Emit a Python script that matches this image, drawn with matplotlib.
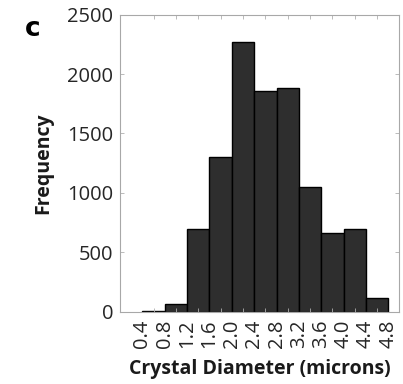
import matplotlib
matplotlib.use("Agg")
import matplotlib.pyplot as plt
import numpy as np

# Histogram of crystal diameters: bin edges (microns) and counts per bin
bin_edges = [0.4, 0.8, 1.2, 1.6, 2.0, 2.4, 2.8, 3.2, 3.6, 4.0, 4.4, 4.8]
counts = [8, 61, 695, 1304, 2268, 1855, 1883, 1051, 664, 692, 111]
edge_labels = ["0.4", "0.8", "1.2", "1.6", "2.0", "2.4", "2.8", "3.2", "3.6", "4.0", "4.4", "4.8"]
y_ticks = [0, 500, 1000, 1500, 2000, 2500]

plt.rcParams['font.family'] = ['Open Sans', 'DejaVu Sans']

fig = plt.figure(figsize=(4.03, 3.84), dpi=100)
ax = fig.add_axes([0.2978, 0.1888, 0.6935, 0.7729])

edges = np.array(bin_edges)
centers = (edges[:-1] + edges[1:]) / 2
widths = np.diff(edges)
ax.bar(edges[:-1], counts, width=widths, align='edge',
       color='#2e2e2e', edgecolor='black', linewidth=1.0)

ax.set_xlim(0, 5)
ax.set_ylim(0, 2500)

# labels sit on the bin edges; tick marks on the bin centres
ax.set_xticks(edges)
ax.set_xticklabels(edge_labels, rotation=90, fontsize=14.5, color='#262626')
ax.tick_params(axis='x', which='major', length=0, pad=6)
ax.set_xticks(centers, minor=True)
ax.tick_params(axis='x', which='minor', direction='in', top=True, bottom=True,
               length=3, width=0.6, color='#b0b0b0')

ax.set_yticks(y_ticks)
ax.set_yticklabels([str(v) for v in y_ticks], fontsize=14.5, color='#262626')
ax.tick_params(axis='y', direction='in', left=True, right=True,
               length=3, width=0.6, color='#b0b0b0', pad=5)

for s in ax.spines.values():
    s.set_color('#a8a8a8')
    s.set_linewidth(0.8)

ax.set_ylabel('Frequency', fontsize=14, fontweight='bold', color='#1a1a1a', labelpad=10)
ax.set_xlabel('Crystal Diameter (microns)', fontsize=14, fontweight='bold', color='#1a1a1a', labelpad=8)

fig.text(0.062, 0.925, 'c', fontsize=19, fontweight='bold', family='DejaVu Sans',
         ha='left', va='center', color='black')

fig.savefig('out.png', dpi=100)
